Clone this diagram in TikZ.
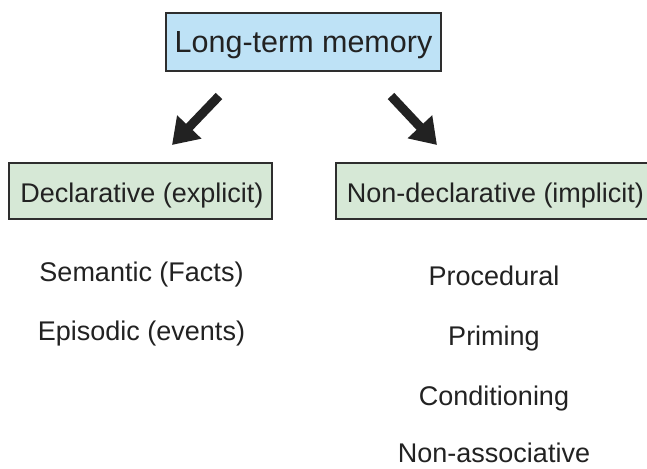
\documentclass[tikz,border=0pt]{standalone}
\usepackage{fontspec}
\setmainfont{Liberation Sans}
\usetikzlibrary{arrows.meta}
\definecolor{topfill}{HTML}{BEE2F6}
\definecolor{boxfill}{HTML}{D6E8D6}
\definecolor{edge}{HTML}{2E2E2E}
\definecolor{ink}{HTML}{222222}
\tikzset{
  topbox/.style={draw=edge, line width=2pt, fill=topfill, minimum width=275pt, minimum height=58pt, inner sep=0pt},
  catbox/.style={draw=edge, line width=2pt, fill=boxfill, minimum height=56pt, inner sep=0pt},
  item/.style={text=ink, anchor=base, inner sep=0pt, font=\fontsize{27}{32}\selectfont},
  bigarrow/.style={line width=9pt, draw=ink, -{Triangle[length=25pt,width=32pt]}}
}
\begin{document}
\begin{tikzpicture}[x=1pt,y=1pt]
\useasboundingbox (0,0) rectangle (647,468);
\fill[white] (0,0) rectangle (647,468);
\clip (0,0) rectangle (647,468);
\node[topbox] (ltm) at (303.5,426) {};
\node[text=ink, anchor=base, inner sep=0pt, font=\fontsize{30.5}{35}\selectfont] (ltmtext) at (303.5,415) {Long-term memory};
\node[catbox, minimum width=263pt] (decl) at (140.5,277) {};
\node[text=ink, anchor=base, inner sep=0pt, font=\fontsize{27}{32}\selectfont] (decltext) at (142,265) {Declarative (explicit)};
\node[catbox, minimum width=316pt] (nondecl) at (494,277) {};
\node[text=ink, anchor=base, inner sep=0pt, font=\fontsize{27}{32}\selectfont] (nondecltext) at (495.5,265) {Non-declarative (implicit)};
\node[item] (sem) at (141.5,186) {Semantic (Facts)};
\node[item] (epi) at (141.5,127) {Episodic (events)};
\node[item] (proc) at (494,182) {Procedural};
\node[item] (prim) at (494,122) {Priming};
\node[item] (cond) at (494,62) {Conditioning};
\node[item] (nonas) at (494,6) {Non-associative};
\coordinate (la) at (219,372);
\coordinate (lt) at (172,323);
\coordinate (ra) at (391,372);
\coordinate (rt) at (437,323);
\draw[bigarrow] (la) -- (lt);
\draw[bigarrow] (ra) -- (rt);
\end{tikzpicture}
\end{document}
